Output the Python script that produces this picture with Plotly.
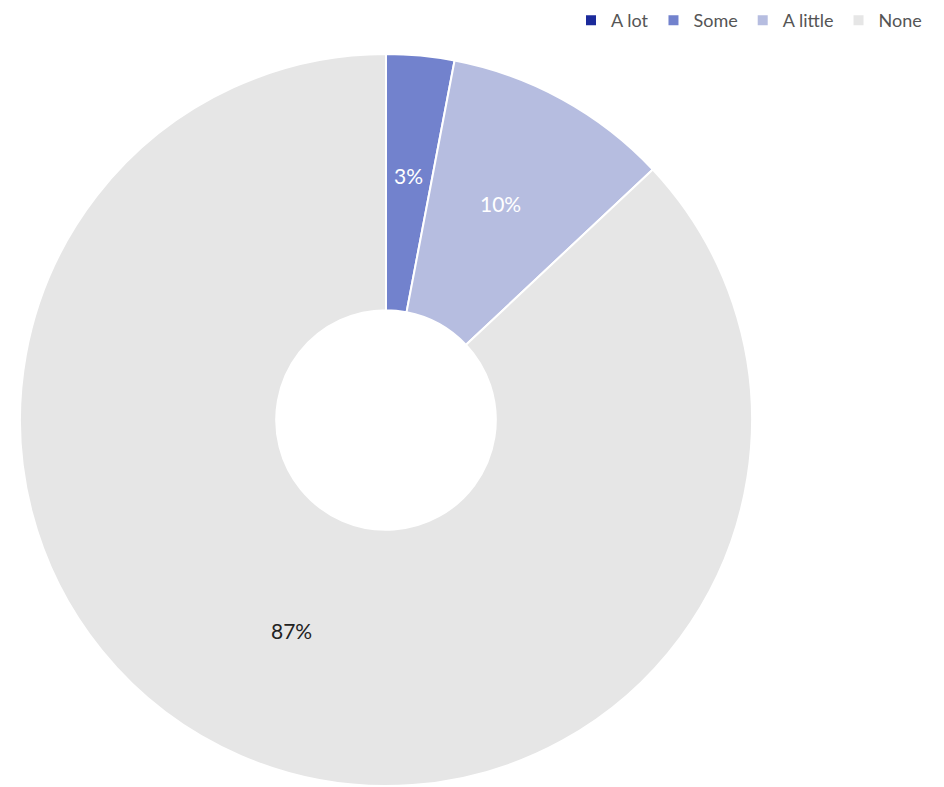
import math
import plotly.graph_objects as go

categories = ["A lot", "Some", "A little", "None"]
values = [0, 3, 10, 87]
colors = ["#1b2a9b", "#7282cd", "#b6bde0", "#e6e6e6"]
text_colors = ["#ffffff", "#ffffff", "#ffffff", "#222222"]

W, H = 944, 787
PAGE_OFF = 8  # default page margin around the plot div
CX, CY, R_OUT, HOLE = 386 - PAGE_OFF, 420 - PAGE_OFF, 366, 0.3
FONT = "Lato, Open Sans, sans-serif"

fig = go.Figure(go.Pie(
    labels=categories,
    values=values,
    sort=False,
    direction="clockwise",
    rotation=0,
    hole=HOLE,
    marker=dict(colors=colors, line=dict(color="#ffffff", width=2)),
    textinfo="none",
    domain=dict(x=[(CX - R_OUT) / W, (CX + R_OUT) / W],
                y=[1 - (CY + R_OUT) / H, 1 - (CY - R_OUT) / H]),
))

# value labels at the mid-radius of each slice, computed from the data
total = sum(values)
r_mid = R_OUT * (1 + HOLE) / 2
cum = 0
annotations = []
for cat, v, tc in zip(categories, values, text_colors):
    if v > 0:
        ang = 2 * math.pi * (cum + v / 2) / total
        px = CX + r_mid * math.sin(ang)
        py = CY - r_mid * math.cos(ang)
        annotations.append(dict(
            x=px / W, y=1 - py / H, xref="paper", yref="paper",
            xanchor="center", yanchor="middle", yshift=8,
            text=f"{v}%", showarrow=False,
            font=dict(size=21, color=tc, family=FONT),
        ))
    cum += v

fig.update_layout(
    width=W, height=H,
    margin=dict(l=0, r=0, t=0, b=0, autoexpand=False),
    paper_bgcolor="#ffffff",
    font=dict(family=FONT),
    showlegend=True,
    annotations=annotations,
    legend=dict(
        orientation="h", x=(925 - PAGE_OFF + 2) / W, xanchor="right",
        y=1.0076, yanchor="top",
        font=dict(size=18, color="#555555"),
        itemwidth=30, traceorder="normal",
    ),
)

fig.write_html("out.html")
